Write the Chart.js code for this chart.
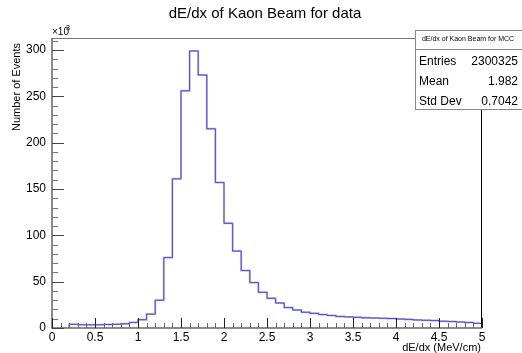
<!DOCTYPE html>
<html>
<head>
<meta charset="utf-8">
<script src="https://cdn.jsdelivr.net/npm/chart.js@4"></script>
<style>
html,body{margin:0;padding:0;background:#fff;}
#wrap{width:522px;height:353px;position:relative;}
</style>
</head>
<body>
<div id="wrap"><canvas id="c" width="522" height="353"></canvas></div>
<script>
// Bin lower edges (MeV/cm), bin width 0.1
const binEdges = [0.2,0.3,0.4,0.5,0.6,0.7,0.8,0.9,1.0,1.1,1.2,1.3,1.4,1.5,1.6,1.7,1.8,1.9,2.0,2.1,2.2,2.3,2.4,2.5,2.6,2.7,2.8,2.9,3.0,3.1,3.2,3.3,3.4,3.5,3.6,3.7,3.8,3.9,4.0,4.1,4.2,4.3,4.4,4.5,4.6,4.7,4.8,4.9];
// Counts (x10^3)
const counts = [4,3.5,3.5,3.5,3.8,4,4.5,6,9,15,30,76,161,256,299,273,215,157,113,83,62,49,38.5,32,27,22,19.4,17,15.8,14.5,13.5,12.5,12,11.5,11,10.8,10.5,10.2,9.7,9.3,8.7,8.3,8,7.3,7,6.5,6,5];
const binWidth = 0.1;
const xTicks = [0,0.5,1,1.5,2,2.5,3,3.5,4,4.5,5];
const yTicks = [0,50,100,150,200,250,300];
const titleText = "dE/dx of Kaon Beam for data";
const xTitle = "dE/dx (MeV/cm)";
const yTitle = "Number of Events";
const statsTitle = "dE/dx of Kaon Beam for MCC";
const statsLabels = ["Entries","Mean","Std Dev"];
const statsValues = ["2300325","1.982","0.7042"];

const pts = [{x: binEdges[0], y: 0}];
binEdges.forEach((e,i)=>pts.push({x:e, y:counts[i]}));
pts.push({x: binEdges[binEdges.length-1]+binWidth, y: counts[counts.length-1]});

const FONT = "'Liberation Sans', Arial, Helvetica, sans-serif";

const decor = {
  id:'decor',
  afterDatasetsDraw(chart){
    const ctx = chart.ctx, a = chart.chartArea;
    const xs = chart.scales.x, ys = chart.scales.y;
    ctx.save();
    // frame
    ctx.lineWidth = 1;
    ctx.strokeStyle = '#777';
    ctx.beginPath();
    ctx.moveTo(a.left, a.top+0.5); ctx.lineTo(a.right, a.top+0.5);
    ctx.stroke();
    ctx.strokeStyle = '#000';
    ctx.beginPath();
    ctx.moveTo(a.right-0.5, a.top); ctx.lineTo(a.right-0.5, a.bottom);
    ctx.stroke();
    ctx.strokeStyle = '#666';
    ctx.lineWidth = 1.5;
    ctx.beginPath();
    ctx.moveTo(a.left, a.top); ctx.lineTo(a.left, a.bottom); ctx.lineTo(a.right, a.bottom);
    ctx.stroke();
    // y ticks (major every 50, minor every 10)
    ctx.lineWidth = 1;
    for(let v=0; v<=ys.max; v+=10){
      const py = Math.round(ys.getPixelForValue(v))+0.5;
      const major = (v % 50) === 0;
      ctx.strokeStyle = major ? '#444' : '#777';
      ctx.beginPath();
      ctx.moveTo(a.left, py); ctx.lineTo(a.left + (major?12:6), py);
      ctx.stroke();
    }
    // x ticks (major every 0.5, minor every 0.1)
    for(let i=0;i<=50;i++){
      const v = i/10;
      const px = Math.round(xs.getPixelForValue(v))+0.5;
      const major = (i % 5) === 0;
      ctx.strokeStyle = major ? '#222' : '#666';
      ctx.beginPath();
      ctx.moveTo(px, a.bottom); ctx.lineTo(px, a.bottom - (major?10:5));
      ctx.stroke();
    }
    // title
    ctx.fillStyle = '#000';
    ctx.font = '15px ' + FONT;
    ctx.textAlign = 'center'; ctx.textBaseline = 'middle';
    ctx.fillText(titleText, 265, 14);
    // x title
    ctx.font = '11px ' + FONT;
    ctx.textAlign = 'right'; ctx.textBaseline = 'alphabetic';
    ctx.fillText(xTitle, 481, 351);
    // y title
    ctx.save();
    ctx.translate(17, 43);
    ctx.rotate(-Math.PI/2);
    ctx.textAlign = 'right'; ctx.textBaseline = 'middle';
    ctx.fillText(yTitle, 0, 0);
    ctx.restore();
    // x10^3
    ctx.font = '10px ' + FONT;
    ctx.textAlign = 'left'; ctx.textBaseline = 'alphabetic';
    ctx.fillText('\u00d710', 52, 35);
    ctx.font = '7px ' + FONT;
    ctx.fillText('3', 66, 30);
    // stats box
    ctx.fillStyle = '#fff';
    ctx.fillRect(415, 30, 107, 80);
    ctx.strokeStyle = '#888';
    ctx.lineWidth = 1;
    ctx.strokeRect(415.5, 30.5, 110, 79);
    ctx.beginPath(); ctx.moveTo(415, 49.5); ctx.lineTo(522, 49.5); ctx.stroke();
    ctx.fillStyle = '#000';
    ctx.font = '7px ' + FONT;
    ctx.textAlign = 'center'; ctx.textBaseline = 'middle';
    ctx.fillText(statsTitle, 468, 39.5);
    ctx.font = '12px ' + FONT;
    const rowsY = [62, 82, 102];
    statsLabels.forEach((l,i)=>{
      ctx.textAlign = 'left';
      ctx.fillText(l, 419, rowsY[i]);
      ctx.textAlign = 'right';
      ctx.fillText(statsValues[i], 518, rowsY[i]);
    });
    ctx.restore();
  }
};

new Chart(document.getElementById('c'), {
  type: 'scatter',
  data: {
    datasets: [
      { data: pts, showLine: true, stepped: 'before', borderColor: 'rgba(120,120,220,0.55)', borderWidth: 2, pointRadius: 0, fill: false },
      { data: pts, showLine: true, stepped: 'before', borderColor: '#2020a0', borderWidth: 1, pointRadius: 0, fill: false }
    ]
  },
  options: {
    responsive: false,
    animation: false,
    devicePixelRatio: 1,
    layout: { padding: { top: 38, right: 40, left: 0, bottom: 0 } },
    plugins: { legend: { display: false }, tooltip: { enabled: false }, title: { display: false } },
    scales: {
      x: {
        type: 'linear', min: 0, max: 5,
        afterBuildTicks(s){ s.ticks = xTicks.map(v=>({value:v})); },
        afterFit(s){ s.height = 25; },
        grid: { display: false, drawTicks: false },
        border: { display: false },
        ticks: { color: '#000', font: { family: FONT, size: 12 }, padding: 2, maxRotation: 0,
          callback: v => String(v) }
      },
      y: {
        type: 'linear', min: 0, max: 313,
        afterBuildTicks(s){ s.ticks = yTicks.map(v=>({value:v})); },
        afterFit(s){ s.width = 52; },
        grid: { display: false, drawTicks: false },
        border: { display: false },
        ticks: { color: '#000', font: { family: FONT, size: 12 }, padding: 6,
          callback: v => String(v) }
      }
    }
  },
  plugins: [decor]
});
</script>
</body>
</html>
